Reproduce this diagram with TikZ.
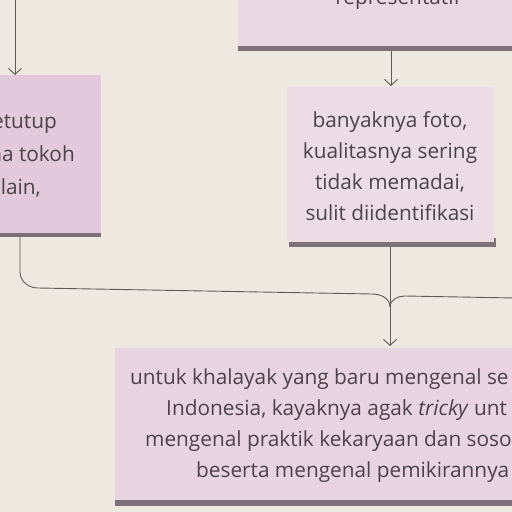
\documentclass[tikz,border=0pt]{standalone}
\usepackage{fontspec}
\setmainfont{Open Sans}
\usetikzlibrary{arrows.meta}
\definecolor{bg}{HTML}{EEE8E0}
\definecolor{boxA}{HTML}{E2C9DB}
\definecolor{boxB}{HTML}{ECDDE5}
\definecolor{boxC}{HTML}{E8D3E0}
\definecolor{boxD}{HTML}{EAD8E1}
\definecolor{shade}{HTML}{7E7078}
\definecolor{ink}{HTML}{4A4347}
\definecolor{wire}{HTML}{5E5A58}
\tikzset{
  x=1pt, y=-1pt,
  card/.style={draw=none, inner sep=0pt, outer sep=0pt},
  cardshadow/.style={fill=shade},
  txt/.style={text=ink, font=\fontsize{20.8}{31}\selectfont, inner sep=0pt},
  wireline/.style={draw=wire, line width=0.9pt},
  tip/.style={-{Straight Barb[length=6pt,width=13pt,line width=0.9pt]}}
}
\begin{document}
\begin{tikzpicture}
\useasboundingbox (0,0) rectangle (512,512);
\clip (0,0) rectangle (512,512);
\fill[bg] (0,0) rectangle (512,512);

% shadows
\fill[cardshadow] (-30,229) rectangle (101,237);
\fill[cardshadow] (238,42) rectangle (530,51);
\fill[cardshadow] (289,238) rectangle (496,247);
\fill[cardshadow] (115,496) rectangle (530,506);

% boxes
\node[card, fill=boxA, minimum width=131pt, minimum height=158pt, anchor=north west] (left) at (-30,75) {};
\node[card, fill=boxD, minimum width=292pt, minimum height=66pt, anchor=north west] (top) at (238,-20) {};
\node[card, fill=boxB, minimum width=207pt, minimum height=155pt, anchor=north west] (mid) at (287,87) {};
\node[card, fill=boxC, minimum width=415pt, minimum height=152pt, anchor=north west] (bot) at (115,348) {};

% texts
\node[txt] (ttop) at (398,-1) {representatif};
\node[txt, align=center] (tmid) at (390,166) {banyaknya foto,\\kualitasnya sering\\tidak memadai,\\sulit diidentifikasi};
\node[txt, anchor=base east] (l1) at (57,128) {etutup};
\node[txt, anchor=base east] (l2) at (75,161) {na tokoh};
\node[txt, anchor=base east] (l3) at (41,194) {lain,};
\node[txt, anchor=base west] (b1) at (130,384) {untuk khalayak yang baru mengenal se};
\node[txt, anchor=base west] (b2) at (166,415) {Indonesia, kayaknya agak \textit{tricky} unt};
\node[txt, anchor=base west] (b3) at (145,446) {mengenal praktik kekaryaan dan soso};
\node[txt, anchor=base west] (b4) at (196,477) {beserta mengenal pemikirannya};

% connectors
\coordinate (c0) at (15,-5);
\coordinate (merge) at (390,307);
\coordinate (cr) at (515,298);
\draw[wireline, tip] (c0) -- (c0 |- left.north);
\draw[wireline, tip] (391,51) -- (391,86);
\draw[wireline] (20,237) -- (20,272) to[out=-90,in=180] (38,288) -- (372,294) to[out=0,in=90] (merge);
\draw[wireline] (cr) -- (405,296) to[out=180,in=90] (merge);
\draw[wireline, tip] (390,247) -- (390,346);
\end{tikzpicture}
\end{document}
